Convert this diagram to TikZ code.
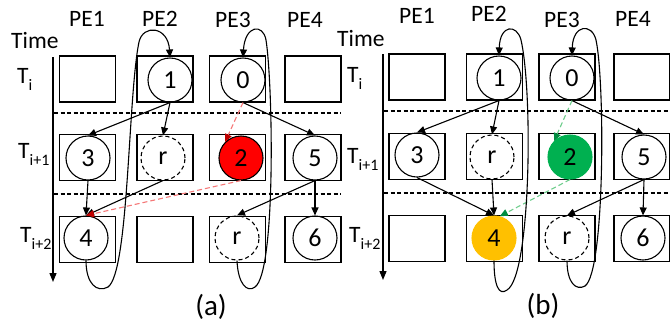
\documentclass[tikz,border=0pt]{standalone}
\usepackage{fontspec}
\setmainfont{Carlito}
\usetikzlibrary{arrows.meta}
\definecolor{lightred}{RGB}{245,120,120}
\definecolor{darkred}{RGB}{192,0,0}
\definecolor{lightgreen}{RGB}{110,205,140}
\definecolor{taskgreen}{RGB}{0,176,80}
\definecolor{taskorange}{RGB}{255,192,0}
\newcommand{\Tlab}[1]{T\raisebox{-7pt}{\fontsize{16}{16}\selectfont #1}}
\begin{document}
\begin{tikzpicture}[x=1pt,y=-1pt,
 cell/.style={draw, line width=1.4pt, minimum width=56pt, minimum height=46pt, inner sep=0pt},
 task/.style={draw, circle, line width=1.1pt, minimum size=44pt, inner sep=0pt, font=\fontsize{26}{26}\selectfont},
 relay/.style={task, dash pattern=on 4pt off 3pt},
 lbl/.style={font=\fontsize{23.5}{23.5}\selectfont, inner sep=0pt},
 subcap/.style={font=\fontsize{29}{29}\selectfont, inner sep=0pt},
 dep/.style={line width=1.1pt, -{Triangle[length=8pt,width=7pt]}},
 reddep/.style={line width=1.1pt, lightred, dash pattern=on 5pt off 3pt, -{Triangle[length=8pt,width=7pt,color=darkred]}},
 greendep/.style={line width=1.1pt, lightgreen, dash pattern=on 5pt off 3pt, -{Triangle[length=8pt,width=7pt,color=taskgreen!80!black]}},
 axis/.style={line width=1.3pt, -{Triangle[length=9pt,width=7pt]}},
 sep/.style={line width=1.1pt, dash pattern=on 4pt off 2.5pt},
]
\useasboundingbox (0,0) rectangle (670,325);

% ================= panel (a) =================
\node[lbl, anchor=base west] (aTime) at (11,48) {Time};
\node[lbl, anchor=base] (aPE1) at (87,26) {PE1};
\node[lbl, anchor=base] (aPE2) at (160,26) {PE2};
\node[lbl, anchor=base] (aPE3) at (233,27) {PE3};
\node[lbl, anchor=base] (aPE4) at (305,27) {PE4};
\node[lbl, anchor=base west] (aTi) at (17,83) {\Tlab{i}};
\node[lbl, anchor=base west] (aTi1) at (18,158) {\Tlab{i+1}};
\node[lbl, anchor=base west] (aTi2) at (20,242) {\Tlab{i+2}};

\coordinate (aAx0) at (53,57);
\coordinate (aAx1) at (53,282);
\draw[axis] (aAx0) -- (aAx1);
\coordinate (aS1a) at (54,113); \coordinate (aS1b) at (341,113);
\coordinate (aS2a) at (54,194); \coordinate (aS2b) at (341,194);
\draw[sep] (aS1a) -- (aS1b);
\draw[sep] (aS2a) -- (aS2b);

\foreach \c/\x in {1/87.5,2/165,3/237.5,4/313}{
  \foreach \r/\y in {1/79,2/157.5,3/239.5}{
    \node[cell] (aC\r\c) at (\x,\y) {};
  }
}

\node[task] (a1) at (170,80) {1};
\node[task] (a0) at (243,80) {0};
\node[task] (a3) at (88,158) {3};
\node[relay] (ar1) at (163,158) {r};
\node[task, fill=red] (a2) at (241,158) {2};
\node[task] (a5) at (315,158) {5};
\node[task] (a4) at (86,238) {4};
\node[relay] (ar2) at (237,238) {r};
\node[task] (a6) at (315,238) {6};

\draw[dep] (a1.south) -- (a3.north);
\draw[dep] (a1.south) -- (ar1.north);
\draw[dep] (a0.south) -- (a5.north);
\draw[reddep] (a0.south) -- (a2.135);
\draw[dep] (a3.south) -- (a4.north);
\draw[dep] (ar1.south) -- (a4.north);
\draw[reddep] (a2.south) -- (a4.north);
\draw[dep] (a5.south) -- (ar2.north);
\draw[dep] (a5.south) -- (a6.north);

\draw[dep] (a4.south) .. controls (86,284) and (97,293) .. (108,287)
  .. controls (129,272) and (128,95) .. (139,42)
  .. controls (143,24) and (168,26) .. (a1.north);
\draw[dep] (ar2.south) .. controls (238,284) and (247,293) .. (255,287)
  .. controls (276,272) and (273,85) .. (266,40)
  .. controls (263,23) and (245,25) .. (a0.north);

\node[subcap] (acap) at (211,307) {(a)};

% ================= panel (b) =================
\node[lbl, anchor=base west] (bTime) at (337,46) {Time};
\node[lbl, anchor=base] (bPE1) at (417,23) {PE1};
\node[lbl, anchor=base] (bPE2) at (489,21) {PE2};
\node[lbl, anchor=base] (bPE3) at (562,27) {PE3};
\node[lbl, anchor=base] (bPE4) at (633,26) {PE4};
\node[lbl, anchor=base west] (bTi) at (347,82) {\Tlab{i}};
\node[lbl, anchor=base west] (bTi1) at (347,163) {\Tlab{i+1}};
\node[lbl, anchor=base west] (bTi2) at (349,242) {\Tlab{i+2}};

\coordinate (bAx0) at (383,54);
\coordinate (bAx1) at (383,280);
\draw[axis] (bAx0) -- (bAx1);
\coordinate (bS1a) at (384,111); \coordinate (bS1b) at (670,111);
\coordinate (bS2a) at (384,193); \coordinate (bS2b) at (670,193);
\draw[sep] (bS1a) -- (bS1b);
\draw[sep] (bS2a) -- (bS2b);

\foreach \c/\x in {1/417,2/494.5,3/567,4/642}{
  \foreach \r/\y in {1/77,2/156.5,3/238.5}{
    \node[cell] (bC\r\c) at (\x,\y) {};
  }
}

\node[task] (b1) at (499,78) {1};
\node[task] (b0) at (572,78) {0};
\node[task] (b3) at (417,155) {3};
\node[relay] (br1) at (492,157) {r};
\node[task, fill=taskgreen, draw=taskgreen] (b2) at (570,157) {2};
\node[task] (b5) at (644,157) {5};
\node[task, fill=taskorange, draw=taskorange] (b4) at (494,238) {4};
\node[relay] (br2) at (567,238) {r};
\node[task] (b6) at (643,238) {6};

\draw[dep] (b1.south) -- (b3.north);
\draw[dep] (b1.south) -- (br1.north);
\draw[dep] (b0.south) -- (b5.north);
\draw[greendep] (b0.south) -- (b2.135);
\draw[dep] (b3.south) -- (b4.north);
\draw[dep] (br1.south) -- (b4.north);
\draw[greendep] (b2.south) -- (b4.75);
\draw[dep] (b5.south) -- (br2.north);
\draw[dep] (b5.south) -- (b6.north);

\draw[dep] (b4.south) .. controls (494,286) and (499,296) .. (507,290)
  .. controls (531,276) and (533,92) .. (521,40)
  .. controls (517,24) and (500,24) .. (b1.north);
\draw[dep] (br2.south) .. controls (567,283) and (576,291) .. (585,286)
  .. controls (605,272) and (605,82) .. (596,40)
  .. controls (592,23) and (573,24) .. (b0.north);

\node[subcap] (bcap) at (543,306) {(b)};
\end{tikzpicture}
\end{document}
